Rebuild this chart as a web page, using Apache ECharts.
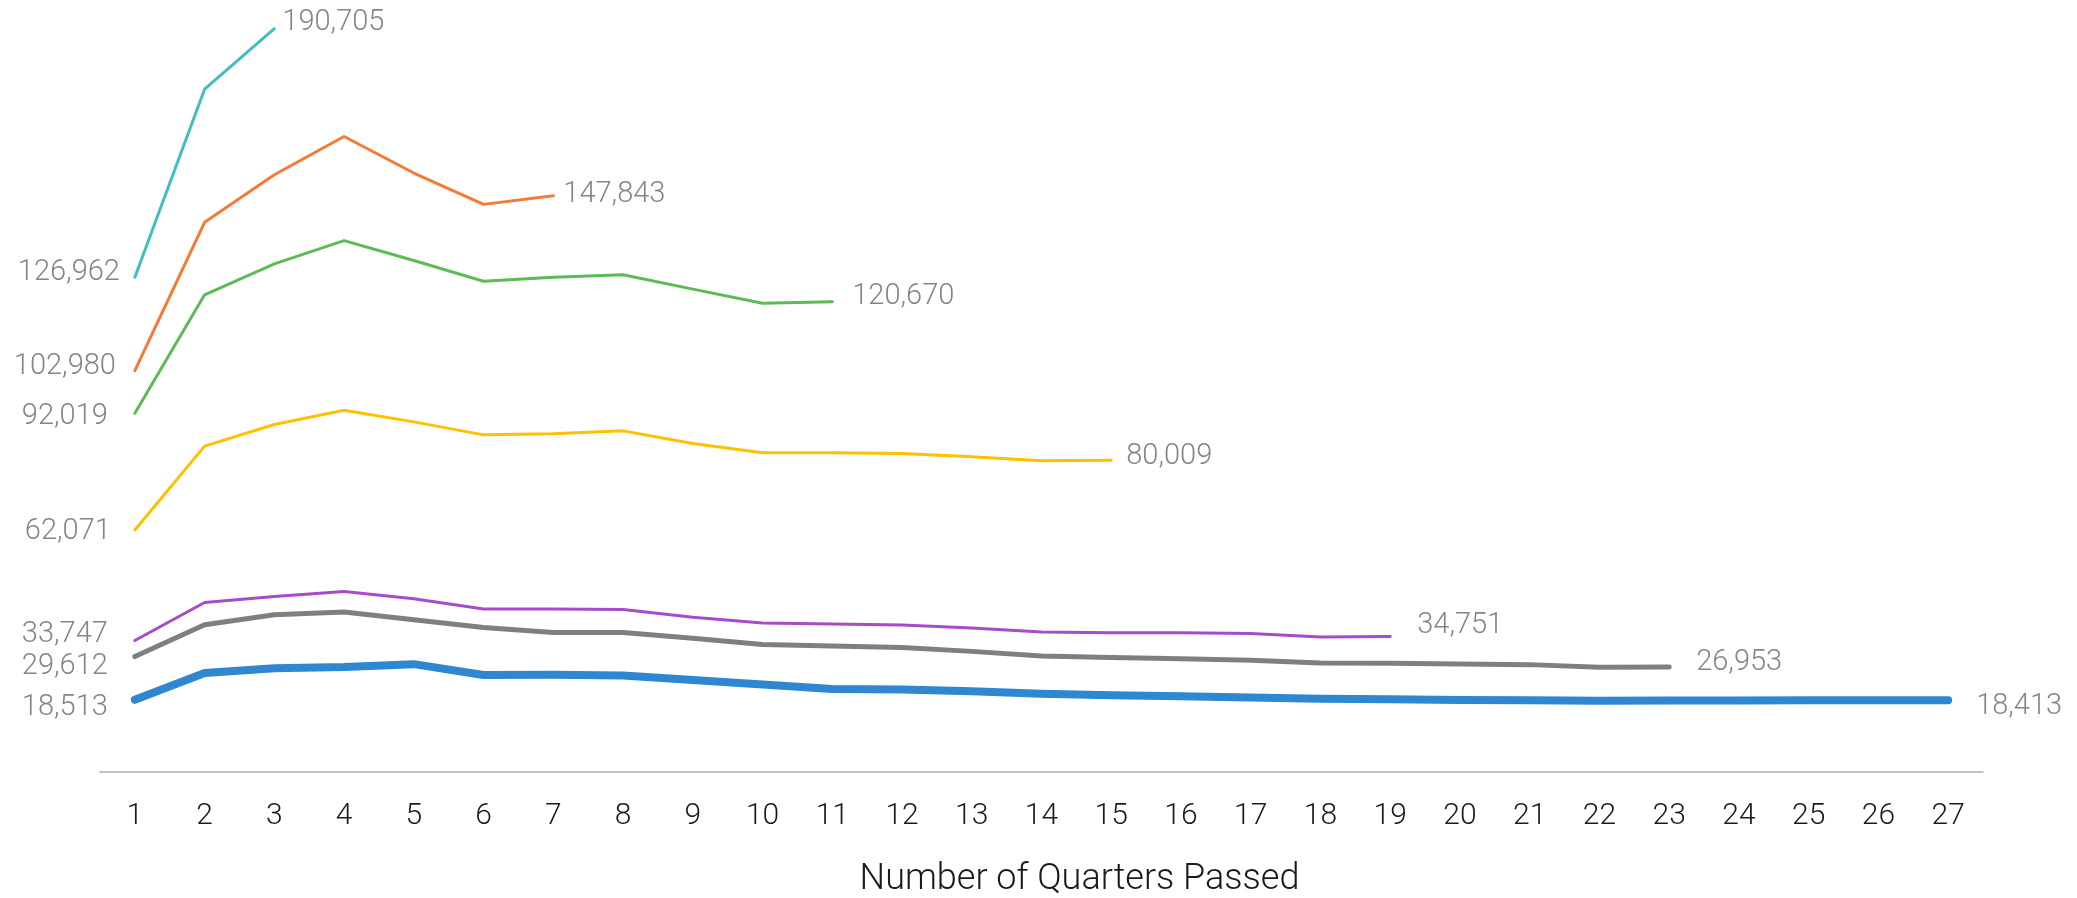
<!DOCTYPE html>
<html>
<head>
<meta charset="utf-8">
<script src="https://cdn.jsdelivr.net/npm/echarts@6/dist/echarts.min.js"></script>
<style>
  html, body { margin: 0; padding: 0; background: #ffffff; }
  #chart { width: 2077px; height: 898px; }
</style>
</head>
<body>
<div id="chart"></div>
<script>
// Quarter numbers along the x axis
const quarters = ['1','2','3','4','5','6','7','8','9','10','11','12','13','14','15','16','17','18','19','20','21','22','23','24','25','26','27'];

// One line per cohort; each cohort has been tracked for a different number of quarters
const tealValues   = [126962, 175200, 190705];
const orangeValues = [102980, 141030, 153240, 163050, 153680, 145640, 147843];
const greenValues  = [92019, 122450, 130380, 136350, 131230, 125930, 126950, 127570, 123900, 120290, 120670];
const yellowValues = [62071, 83610, 89170, 92830, 89830, 86500, 86760, 87530, 84300, 81890, 81890, 81740, 80870, 79850, 80009];
const purpleValues = [33747, 43490, 45030, 46310, 44440, 41800, 41800, 41700, 39700, 38220, 37970, 37710, 36940, 35920, 35740, 35740, 35560, 34640, 34751];
const greyValues   = [29612, 37790, 40350, 41040, 39070, 37090, 35810, 35780, 34330, 32740, 32330, 31970, 30950, 29770, 29410, 29080, 28650, 27980, 27880, 27720, 27550, 26850, 26953];
const blueValues   = [18513, 25400, 26620, 26930, 27670, 24900, 24950, 24780, 23580, 22460, 21300, 21170, 20700, 20090, 19700, 19420, 19110, 18820, 18690, 18480, 18380, 18300, 18330, 18320, 18380, 18390, 18413];

// Styling per line: colour, width, and where the first/last value labels sit
const lineStyles = [
  { values: tealValues,   color: '#3fbfbd', width: 3,   start: [-66, -4], end: [8, -6] },
  { values: orangeValues, color: '#f47a35', width: 3,   start: [-70, -4], end: [10, -1] },
  { values: greenValues,  color: '#5cbb57', width: 3,   start: [-70, 3],  end: [20, -5] },
  { values: yellowValues, color: '#ffc000', width: 3,   start: [-67, 2],  end: [15, -3] },
  { values: purpleValues, color: '#a64bc9', width: 3,   start: [-70, -6], end: [27, -11] },
  { values: greyValues,   color: '#7f7f7f', width: 5,   start: [-70, 10], end: [27, -4] },
  { values: blueValues,   color: '#2f86d1', width: 8,   start: [-70, 8],  end: [28, 7] }
];

const FONT = 'Roboto, "Liberation Sans", sans-serif';
const fmt = p => Number(p.value).toLocaleString('en-US');

function valueLabel(offset, align) {
  return {
    show: true,
    position: 'inside',
    offset: offset,
    align: align,
    verticalAlign: 'middle',
    formatter: fmt,
    color: '#858585',
    fontSize: 29,
    fontFamily: FONT,
    fontWeight: 300
  };
}

const series = lineStyles.map(s => {
  const last = s.values.length - 1;
  const data = s.values.map((v, i) => {
    if (i === 0) return { value: v, label: valueLabel(s.start, 'center') };
    if (i === last) return { value: v, label: valueLabel(s.end, 'left') };
    return v;
  });
  return {
    type: 'line',
    data: data,
    showSymbol: true,
    symbol: 'circle',
    symbolSize: 0,
    itemStyle: { color: s.color },
    lineStyle: { color: s.color, width: s.width, cap: 'round', join: 'round' },
    label: { show: false },
    emphasis: { disabled: true },
    silent: true
  };
});

const chart = echarts.init(document.getElementById('chart'), null, { renderer: 'canvas' });
chart.setOption({
  animation: false,
  backgroundColor: '#ffffff',
  grid: { left: 100, right: 94, top: 12, bottom: 126, containLabel: false, outerBoundsMode: 'none' },
  xAxis: {
    type: 'category',
    data: quarters,
    boundaryGap: true,
    axisLine: { lineStyle: { color: '#adadad', width: 1.5 } },
    axisTick: { show: false },
    axisLabel: {
      margin: 29,
      color: '#1a1a1a',
      fontSize: 30,
      fontFamily: FONT,
      fontWeight: 300,
      interval: 0
    },
    name: 'Number of Quarters Passed',
    nameLocation: 'middle',
    nameGap: 90,
    nameTextStyle: {
      color: '#1a1a1a',
      fontSize: 36,
      fontFamily: FONT,
      fontWeight: 300,
      padding: [0, 0, 0, 76]
    }
  },
  yAxis: {
    type: 'value',
    min: 0,
    max: 195000,
    show: false,
    splitLine: { show: false }
  },
  series: series
});
</script>
</body>
</html>
